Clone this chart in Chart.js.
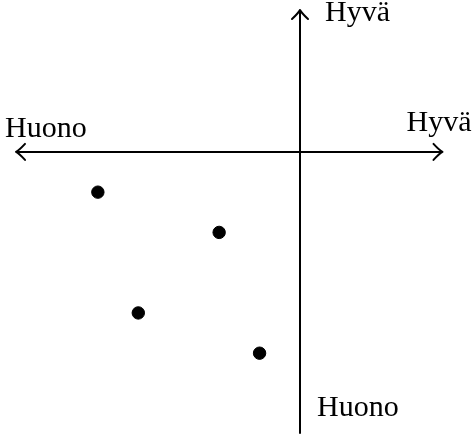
<!DOCTYPE html>
<html>
<head>
<meta charset="utf-8">
<script src="https://cdn.jsdelivr.net/npm/chart.js@4/dist/chart.umd.min.js"></script>
<style>
  html, body { margin: 0; padding: 0; background: #fff; overflow: hidden; }
  #wrap { position: relative; width: 473px; height: 436px; }
  #quadChart { display: block; }
</style>
</head>
<body>
<div id="wrap"><canvas id="quadChart"></canvas></div>
<script>
// point values (x = good/bad horizontally, y = good/bad vertically)
const xValues = [-5, -2, -4, -1];
const yValues = [-1, -2, -4, -5];

// axis extents
const xRange = [-7, 3.5];
const yRange = [-7, 3.5];

// axis end labels
const xLabels = ['Huono', 'Hyvä'];   // left, right
const yLabels = ['Huono', 'Hyvä'];   // bottom, top

const points = xValues.map((x, i) => ({ x: x, y: yValues[i] }));

// open arrow head, a bit like the tikz default
function arrowHead(ctx, tx, ty, dx, dy) {
  const len = 9, half = 8;
  const px = -dy, py = dx; // perpendicular
  ctx.beginPath();
  ctx.moveTo(tx - dx * len + px * half, ty - dy * len + py * half);
  ctx.quadraticCurveTo(tx - dx * 3 + px * 1.5, ty - dy * 3 + py * 1.5, tx, ty);
  ctx.quadraticCurveTo(tx - dx * 3 - px * 1.5, ty - dy * 3 - py * 1.5,
    tx - dx * len - px * half, ty - dy * len - py * half);
  ctx.stroke();
}

const axesPlugin = {
  id: 'crossAxes',
  beforeDatasetsDraw(chart) {
    const ctx = chart.ctx;
    const xs = chart.scales.x, ys = chart.scales.y;
    const x0 = xs.getPixelForValue(0);
    const y0 = ys.getPixelForValue(0);
    const left = xs.getPixelForValue(xRange[0]);
    const right = xs.getPixelForValue(xRange[1]);
    const top = ys.getPixelForValue(yRange[1]);
    const bottom = ys.getPixelForValue(yRange[0]);

    ctx.save();
    ctx.strokeStyle = '#000';
    ctx.lineWidth = 2;
    ctx.lineCap = 'butt';
    ctx.lineJoin = 'round';

    // horizontal axis, arrows both ends
    ctx.beginPath();
    ctx.moveTo(left, y0);
    ctx.lineTo(right, y0);
    ctx.stroke();
    ctx.lineCap = 'round';
    arrowHead(ctx, left - 1, y0, -1, 0);
    arrowHead(ctx, right + 1, y0, 1, 0);

    // vertical axis, arrow on top only
    ctx.lineCap = 'butt';
    ctx.beginPath();
    ctx.moveTo(x0, bottom);
    ctx.lineTo(x0, top);
    ctx.stroke();
    ctx.lineCap = 'round';
    arrowHead(ctx, x0, top - 1, 0, -1);

    // labels
    ctx.fillStyle = '#000';
    ctx.font = '30px "Liberation Serif", "DejaVu Serif", serif';
    ctx.textBaseline = 'alphabetic';
    ctx.textAlign = 'left';
    ctx.fillText(xLabels[0], 5, y0 - 15);
    ctx.fillText(xLabels[1], right - 35, y0 - 21);
    ctx.fillText(yLabels[1], x0 + 25, top + 10);
    ctx.fillText(yLabels[0], x0 + 17, bottom - 18);
    ctx.restore();
  }
};

new Chart(document.getElementById('quadChart'), {
  type: 'scatter',
  data: {
    datasets: [{
      data: points,
      backgroundColor: '#000',
      borderColor: '#000',
      pointRadius: 6.2,
      pointHoverRadius: 6.2,
      borderWidth: 1
    }]
  },
  options: {
    responsive: true,
    maintainAspectRatio: false,
    animation: false,
    layout: {
      autoPadding: false,
      padding: { left: 17, right: 31.5, top: 11, bottom: 2.3 }
    },
    plugins: { legend: { display: false }, tooltip: { enabled: false } },
    scales: {
      x: { type: 'linear', min: xRange[0], max: xRange[1], display: false },
      y: { type: 'linear', min: yRange[0], max: yRange[1], display: false }
    }
  },
  plugins: [axesPlugin]
});
</script>
</body>
</html>
